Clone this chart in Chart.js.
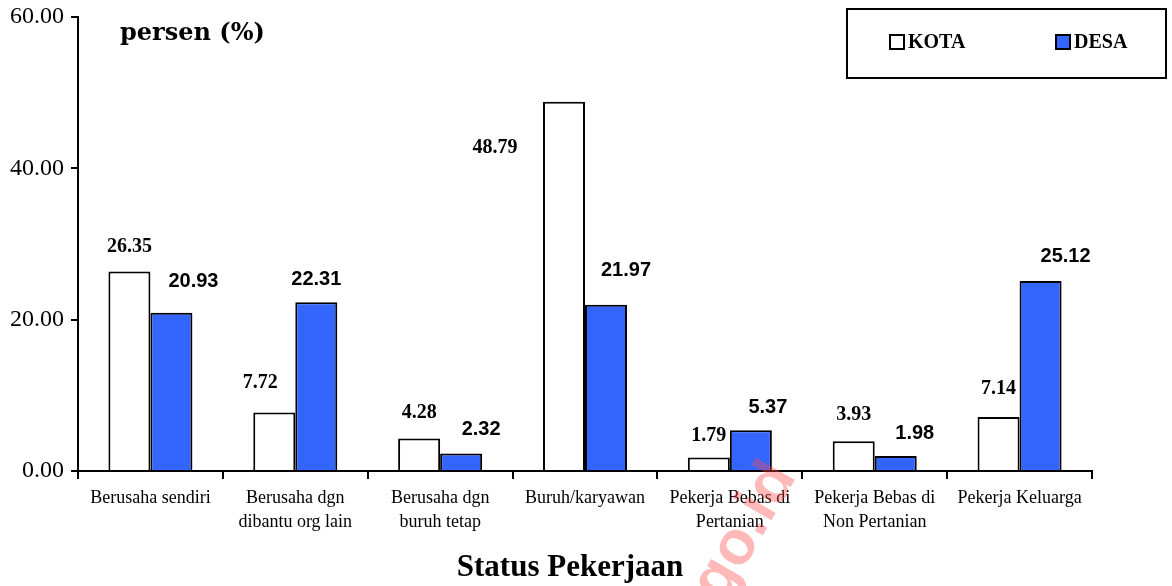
<!DOCTYPE html>
<html>
<head>
<meta charset="utf-8">
<script src="https://cdn.jsdelivr.net/npm/chart.js@4/dist/chart.umd.min.js"></script>
<style>
    body { margin: 0; background: #fff; }
    #wrap { width: 1172px; height: 586px; }
</style>
</head>
<body>
<div id="wrap"><canvas id="chart" width="1172" height="586"></canvas></div>

<script>
// data
var categories = [
    'Berusaha sendiri',
    ['Berusaha dgn', 'dibantu org lain'],
    ['Berusaha dgn', 'buruh tetap'],
    'Buruh/karyawan',
    ['Pekerja Bebas di', 'Pertanian'],
    ['Pekerja Bebas di', 'Non Pertanian'],
    'Pekerja Keluarga'
];
var kota = [26.35, 7.72, 4.28, 48.79, 1.79, 3.93, 7.14];
var desa = [20.93, 22.31, 2.32, 21.97, 5.37, 1.98, 25.12];
var yTicks = [0, 20, 40, 60];

// where each value label sits relative to the top of its bar
var kotaLabelShift = [[0, -25], [-14, -30], [0, -26], [-69, 46], [0, -22], [0, -26], [0, -28]];
var desaLabelShift = [[22, -31], [0, -23], [20, -24], [20, -34], [17, -23], [19, -23], [25, -24]];

var serif = '"Liberation Serif", "Times New Roman", serif';
var sans = '"Liberation Sans", Arial, sans-serif';

var labelsPlugin = {
    id: 'valueLabels',
    afterDatasetsDraw: function (chart) {
        var ctx = chart.ctx;
        var shifts = [kotaLabelShift, desaLabelShift];
        var fonts = ['bold 20px ' + serif, 'bold 20px ' + sans];
        ctx.save();
        ctx.fillStyle = '#000';
        ctx.textAlign = 'center';
        ctx.textBaseline = 'middle';
        chart.data.datasets.forEach(function (ds, i) {
            var meta = chart.getDatasetMeta(i);
            ctx.font = fonts[i];
            meta.data.forEach(function (bar, j) {
                var s = shifts[i][j];
                ctx.fillText(ds.data[j].toFixed(2), bar.x + s[0], bar.y + s[1]);
            });
        });
        ctx.restore();
    }
};

var extrasPlugin = {
    id: 'extras',
    afterDraw: function (chart) {
        var ctx = chart.ctx;
        ctx.save();
        // unit text
        ctx.fillStyle = '#000';
        ctx.font = 'bold 24px "DejaVu Serif", serif';
        ctx.textBaseline = 'middle';
        ctx.textAlign = 'left';
        ctx.fillText('persen (%)', 120, 34);

        // axis title
        ctx.textAlign = 'center';
        ctx.font = 'bold 31px ' + serif;
        ctx.fillText('Status Pekerjaan', 570, 568);
        ctx.textAlign = 'left';

        // legend box
        ctx.strokeStyle = '#000';
        ctx.lineWidth = 2;
        ctx.strokeRect(847, 9, 319, 69);
        var items = [[890, 0], [1056, 1]];
        ctx.font = 'bold 20px ' + serif;
        items.forEach(function (it) {
            var ds = chart.data.datasets[it[1]];
            ctx.fillStyle = ds.backgroundColor;
            ctx.fillRect(it[0], 35, 14, 14);
            ctx.strokeRect(it[0], 35, 14, 14);
            ctx.fillStyle = '#000';
            ctx.fillText(ds.label, it[0] + 18, 43);
        });

        // watermark
        ctx.translate(708, 596);
        ctx.rotate(-60 * Math.PI / 180);
        ctx.font = 'bold 62px ' + sans;
        ctx.fillStyle = 'rgba(255, 70, 70, 0.38)';
        ctx.textBaseline = 'middle';
        ctx.fillText('go.id', 0, 0);
        ctx.restore();
    }
};

new Chart(document.getElementById('chart').getContext('2d'), {
    type: 'bar',
    data: {
        labels: categories,
        datasets: [
            {
                label: 'KOTA',
                data: kota,
                backgroundColor: '#ffffff',
                borderColor: '#000000',
                borderWidth: 2,
                categoryPercentage: 0.58,
                barPercentage: 1
            },
            {
                label: 'DESA',
                data: desa,
                backgroundColor: '#3366ff',
                borderColor: '#000000',
                borderWidth: 2,
                categoryPercentage: 0.58,
                barPercentage: 1
            }
        ]
    },
    options: {
        responsive: false,
        animation: false,
        layout: { padding: { left: 0, right: 80, top: 17, bottom: 0 } },
        plugins: {
            legend: { display: false },
            tooltip: { enabled: false }
        },
        scales: {
            x: {
                afterFit: function (s) { s.height = 115; },
                grid: {
                    drawOnChartArea: false,
                    offset: true,
                    color: '#000',
                    lineWidth: 2,
                    tickLength: 8
                },
                border: { color: '#000', width: 2 },
                ticks: {
                    color: '#000',
                    font: { family: serif, size: 18, lineHeight: 1.3 },
                    maxRotation: 0,
                    autoSkip: false,
                    padding: 8
                }
            },
            y: {
                min: 0,
                max: 60,
                afterFit: function (s) {
                    s.width = 78;
                    s.paddingTop = 0;
                    s.paddingBottom = 0;
                },
                afterBuildTicks: function (s) {
                    s.ticks = yTicks.map(function (v) { return { value: v }; });
                },
                grid: {
                    drawOnChartArea: false,
                    color: '#000',
                    lineWidth: 2,
                    tickLength: 7
                },
                border: { color: '#000', width: 2 },
                ticks: {
                    color: '#000',
                    font: { family: serif, size: 24 },
                    padding: 7,
                    callback: function (v) { return Number(v).toFixed(2); }
                }
            }
        }
    },
    plugins: [labelsPlugin, extrasPlugin]
});
</script>
</body>
</html>
